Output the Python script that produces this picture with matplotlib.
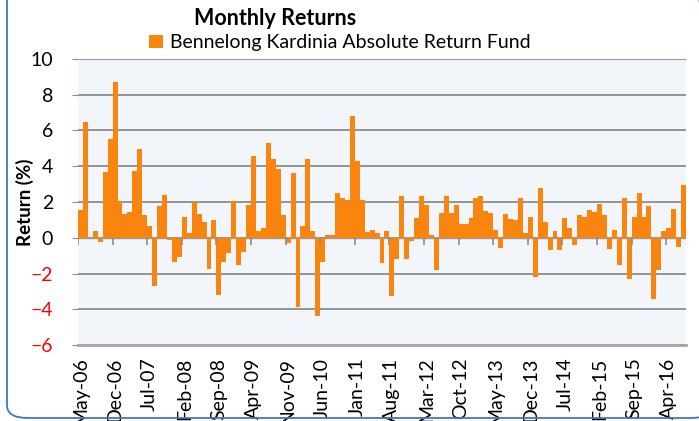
import numpy as np
import pandas as pd
import matplotlib
matplotlib.use("Agg")
import matplotlib.pyplot as plt
from matplotlib.patches import FancyBboxPatch

plt.rcParams['font.family'] = ['Lato', 'DejaVu Sans']

# monthly returns (%), May-06 .. Jul-16
months = pd.date_range('2006-05-01', periods=123, freq='MS')
returns = [
    1.55, 6.5, -0.08, 0.35, -0.25, 3.7, 5.55, 8.7, 2.05, 1.35,
    1.45, 3.75, 4.95, 1.28, 0.67, -2.7, 1.78, 2.37, -0.1, -1.37,
    -1.1, 1.18, 0.24, 1.98, 1.33, 0.87, -1.76, 1.02, -3.2, -1.37,
    -0.87, 2.05, -1.5, -0.78, 1.83, 4.57, 0.39, 0.57, 5.31, 4.43,
    3.83, 1.28, -0.3, 3.6, -3.87, 0.67, 4.39, 0.35, -4.39, -1.33,
    0.17, 0.17, 2.52, 2.24, 2.09, 6.8, 4.28, 2.13, 0.3, 0.43,
    0.24, -1.43, 0.35, -3.28, -1.2, 2.35, -1.2, -0.17, 1.09, 2.35,
    1.83, 0.17, -1.8, 1.39, 2.35, 1.41, 1.83, 0.76, 0.76, 1.09,
    2.2, 2.35, 1.5, 1.39, 0.43, -0.57, 1.31, 1.04, 0.98, 2.2,
    0.24, 1.17, -2.17, 2.76, 0.87, -0.69, 0.35, -0.69, 1.09, 0.57,
    -0.39, 1.28, 1.17, 1.54, 1.46, 1.91, 1.28, -0.63, 0.43, -1.5,
    2.24, -2.31, 1.18, 2.52, 1.18, 1.8, -3.43, -1.8, 0.35, 0.57,
    1.61, -0.54, 2.94,
]
fund_name = 'Bennelong Kardinia Absolute Return Fund'
label_step = 7
y_ticks = [10, 8, 6, 4, 2, 0, -2, -4, -6]

orange = '#F9850F'
grid_c = '#8C8C8C'

fig = plt.figure(figsize=(6.99, 4.21), dpi=100)
ax = fig.add_axes([0.1116, 0.1805, 0.8698, 0.6794])
ax.set_facecolor('#F2F5FA')

x = np.arange(len(returns))
bars = ax.bar(x, returns, width=1.0, color=orange, linewidth=0, zorder=3,
              label=fund_name)

ax.set_xlim(-0.5, len(returns) - 0.5)
ax.set_ylim(-6, 10)
ax.set_yticks(y_ticks)
ax.yaxis.grid(True, color=grid_c, linewidth=1.3, zorder=1)
ax.set_axisbelow(True)

for s in ['top', 'right', 'left']:
    ax.spines[s].set_visible(False)
ax.spines['bottom'].set_color('#A6A6A6')
ax.spines['bottom'].set_linewidth(2)

ax.tick_params(axis='y', length=4, color=grid_c, labelsize=14, pad=14)
for lab, v in zip(ax.get_yticklabels(), y_ticks):
    lab.set_color('red' if v < 0 else 'black')

tick_idx = x[::label_step]
ax.set_xticks(tick_idx)
ax.set_xticklabels([m.strftime('%b-%y') for m in months[::label_step]],
                   rotation=90, fontsize=14)
ax.tick_params(axis='x', length=0, pad=9)

# category tick marks sitting on the zero line
ax.vlines(tick_idx - 0.5, -0.38, 0, color=grid_c, linewidth=1.2, zorder=4)
ax.axhline(0, color='#9A9A9A', linewidth=1, zorder=2)

ax.set_ylabel('Return (%)', fontsize=13.5, fontweight='bold')
ax.yaxis.set_label_coords(-0.072, 0.5)

fig.text(0.394, 0.955, 'Monthly Returns', ha='center', va='center',
         fontsize=15.5, fontweight='bold')
fig.legend(handles=[bars], loc='center', bbox_to_anchor=(0.486, 0.898),
           frameon=False, fontsize=14, handlelength=0.7,
           handleheight=0.7, handletextpad=0.35, borderpad=0)

border = FancyBboxPatch((7 / 699, 3 / 421), 705 / 699, 440 / 421,
                        boxstyle='round,pad=0,rounding_size=0.03',
                        transform=fig.transFigure, facecolor='none',
                        edgecolor='#3B78C4', linewidth=1.3, clip_on=False)
fig.patches.append(border)

fig.savefig('out.png', dpi=100)
